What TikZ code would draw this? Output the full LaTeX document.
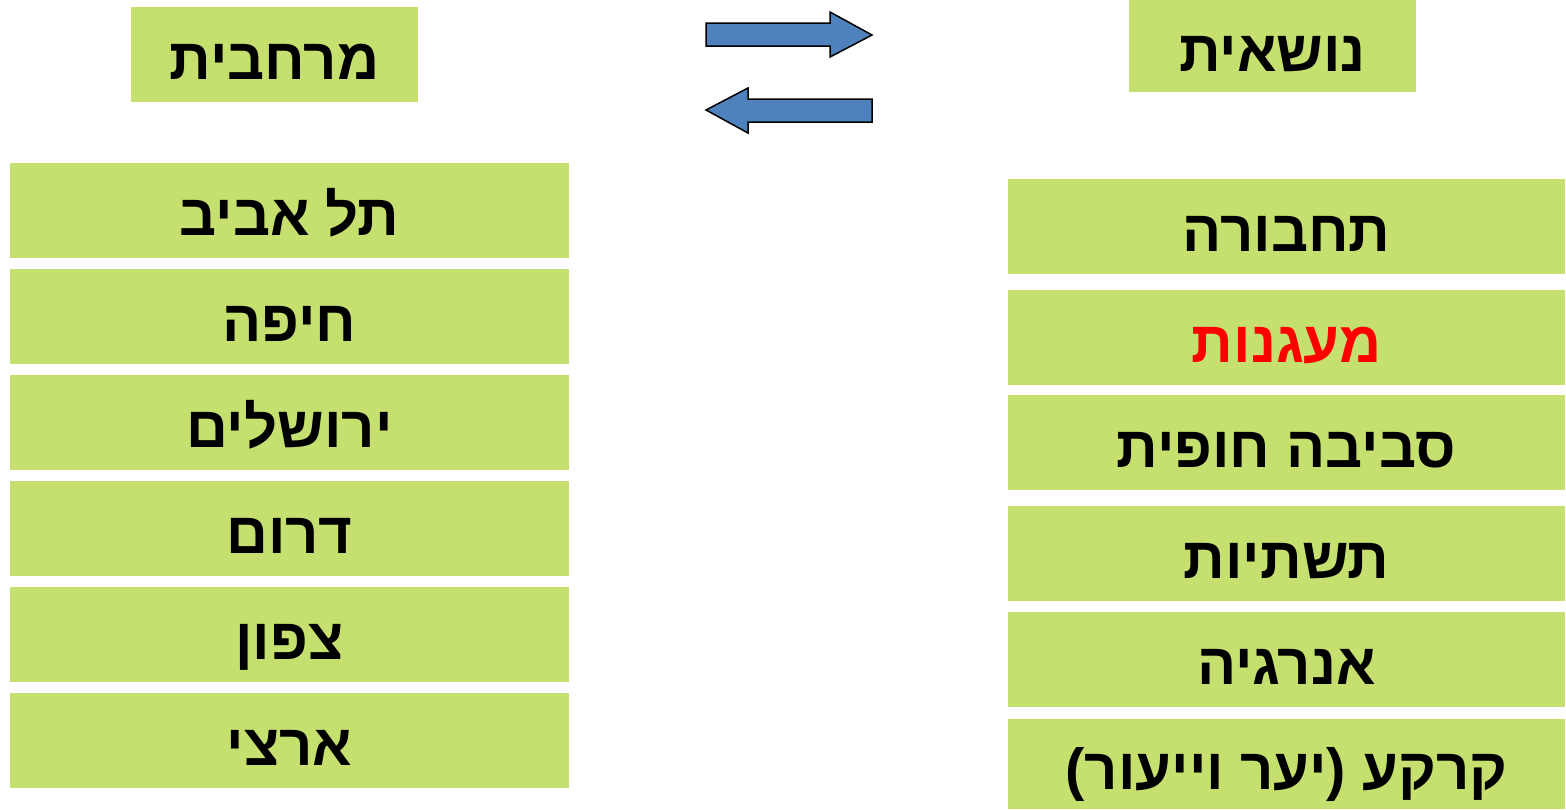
\documentclass[tikz,border=0pt]{standalone}
\usepackage{fontspec}
\newfontfamily\hebfont[Script=Hebrew]{Liberation Sans}
\TeXXeTstate=1
\definecolor{cellgreen}{RGB}{197,224,110}
\definecolor{arrowblue}{RGB}{79,129,189}
\tikzset{
    cell/.style={rectangle, fill=cellgreen, inner sep=0pt, minimum width=559pt, minimum height=95pt,
        text height=50pt, text depth=0pt,
        font=\hebfont\bfseries\fontsize{58}{66}\selectfont},
    title/.style={cell, minimum width=287pt},
    blockarrow/.style={draw=black, fill=arrowblue, line width=1.5pt, line join=miter}
}
\begin{document}
\begin{tikzpicture}[x=1pt, y=-1pt]
    \useasboundingbox (0,0) rectangle (1566,809);

    % Titles
    \node[title] (Spatial) at (274.5, 54.5) {\beginR מרחבית\endR};
    \node[title, minimum height=92pt] (Topical) at (1272.5, 46) {\beginR נושאית\endR};

    % Exchange arrows
    \draw[blockarrow] (706,23) -- (830,23) -- (830,12) -- (872,35) -- (830,57) -- (830,46) -- (706,46) -- cycle;
    \draw[blockarrow] (872,99) -- (748,99) -- (748,88) -- (706,110) -- (748,133) -- (748,122) -- (872,122) -- cycle;

    % Regions
    \node[cell] (TelAviv) at (289.5, 210.5) {\beginR תל אביב\endR};
    \node[cell] (Haifa) at (289.5, 316.5) {\beginR חיפה\endR};
    \node[cell] (Jerusalem) at (289.5, 422.5) {\beginR ירושלים\endR};
    \node[cell] (South) at (289.5, 528.5) {\beginR דרום\endR};
    \node[cell] (North) at (289.5, 634.5) {\beginR צפון\endR};
    \node[cell] (National) at (289.5, 740.5) {\beginR ארצי\endR};

    % Topics
    \node[cell, minimum width=557pt] (Transport) at (1286.5, 226.5) {\beginR תחבורה\endR};
    \node[cell, minimum width=557pt, text=red] (Anchorages) at (1286.5, 337.5) {\beginR מעגנות\endR};
    \node[cell, minimum width=557pt] (Coast) at (1286.5, 442.5) {\beginR סביבה חופית\endR};
    \node[cell, minimum width=557pt] (Infra) at (1286.5, 553.5) {\beginR תשתיות\endR};
    \node[cell, minimum width=557pt] (Energy) at (1286.5, 659.5) {\beginR אנרגיה\endR};
    \node[cell, minimum width=557pt, minimum height=90pt] (Land) at (1286.5, 764) {\beginR קרקע (יער וייעור)\endR};

\end{tikzpicture}
\end{document}
